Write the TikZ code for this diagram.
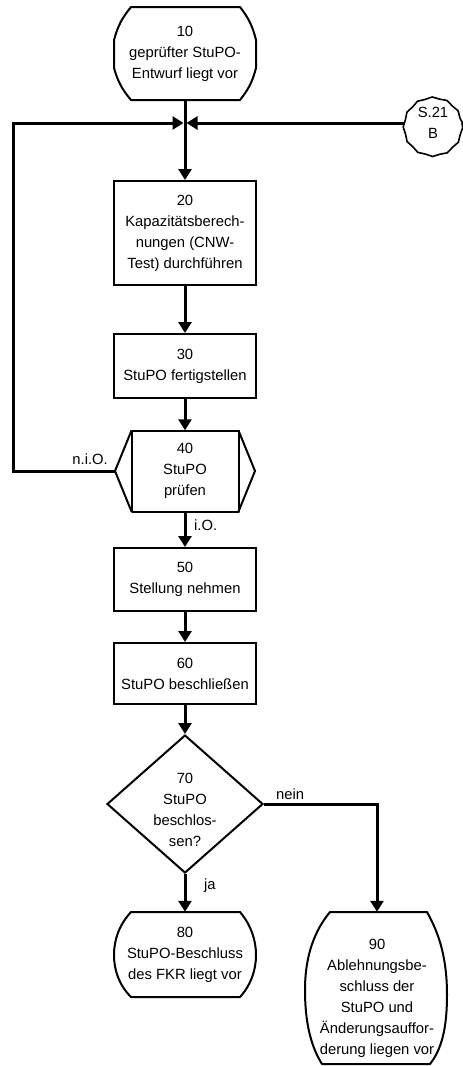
\documentclass[tikz,border=0pt]{standalone}
\usepackage{fontspec}
\setmainfont{Liberation Sans}
\usetikzlibrary{arrows.meta,shapes.geometric,decorations.pathmorphing}
\begin{document}
\begin{tikzpicture}[x=1pt,y=-1pt,
  every node/.style={font=\fontsize{14.8}{21}\selectfont, align=center, inner sep=0pt},
  box/.style={draw, line width=2pt, rectangle, minimum width=142pt},
  outl/.style={draw, line width=2pt, line join=round},
  arr/.style={line width=3pt, -{Triangle[length=11pt,width=13pt]}},
  lbl/.style={font=\fontsize{14.8}{17}\selectfont}]
\useasboundingbox (0,0) rectangle (463,1066);

% 10 event
\node[minimum width=142pt, minimum height=93pt] (n10) at (185,53.5) {10\\geprüfter StuPO-\\Entwurf liegt vor};
\draw[outl] (131,7) -- (240,7) to[bend left=12] (256,40) -- (256,68) to[bend left=12] (240,100)
  -- (131,100) to[bend left=12] (114,68) -- (114,40) to[bend left=12] cycle;

% junction and connector S.21
\coordinate (J) at (185,123);
\node[circle, minimum size=58pt] (s21) at (433,123) {S.21\\B};
\draw[line width=1.6pt, decorate, decoration={snake, segment length=15pt, amplitude=0.7pt}] (433,123) circle (29);

% 20
\node[box, minimum height=104pt] (n20) at (185,233) {20\\Kapazitätsberech-\\nungen (CNW-\\Test) durchführen};
% 30
\node[box, minimum height=64pt] (n30) at (185,366) {30\\StuPO fertigstellen};
% 40 function
\node[minimum width=140pt, minimum height=81pt] (n40) at (185,471) {40\\StuPO\\prüfen};
\draw[outl] (131.5,430.5) rectangle (238.5,511.5);
\draw[outl] (131.5,430.5) -- (115,471) -- (131.5,511.5);
\draw[outl] (238.5,430.5) -- (255,471) -- (238.5,511.5);
% 50, 60
\node[box, minimum height=63pt] (n50) at (185,579.5) {50\\Stellung nehmen};
\node[box, minimum height=61pt] (n60) at (185,673.5) {60\\StuPO beschließen};
% 70 decision
\node[diamond, draw, line width=2pt, minimum width=156pt, minimum height=138pt] (n70) at (185,804) {};
\node (t70) at (185,810) {70\\StuPO\\beschlos-\\sen?};
% 80 event
\node[minimum width=143pt, minimum height=85pt] (n80) at (185,954.5) {80\\StuPO-Beschluss\\des FKR liegt vor};
\draw[outl] (131,912) -- (240,912) .. controls (251,925) and (256,940) .. (256,955)
  .. controls (256,970) and (251,985) .. (240,997) -- (131,997)
  .. controls (119,985) and (114,970) .. (114,955) .. controls (114,940) and (119,925) .. cycle;
% 90 event
\node[minimum width=142pt, minimum height=152pt] (n90) at (377,988) {};
\node (t90) at (377,998) {90\\Ablehnungsbe-\\schluss der\\StuPO und\\Änderungsauffor-\\derung liegen vor};
\draw[outl] (330,912) -- (427,912) .. controls (440,935) and (447,960) .. (447,995)
  .. controls (447,1030) and (441,1050) .. (430,1064) -- (322,1064)
  .. controls (310,1045) and (305,1020) .. (305,990) .. controls (305,955) and (315,930) .. cycle;

% connectors
\coordinate (loopL) at (13,123);
\draw[arr] (n10.south) -- (n20.north);
\draw[arr, shorten >=1.5pt] (n40.west) -| (loopL) -- (J);
\draw[arr, shorten >=1.5pt] (s21.west) -- (J);
\draw[arr] (n20.south) -- (n30.north);
\draw[arr] (n30.south) -- (n40.north);
\draw[arr] (n40.south) -- (n50.north);
\draw[arr] (n50.south) -- (n60.north);
\draw[arr] (n60.south) -- (n70.north);
\draw[arr] (n70.south) -- (n80.north);
\draw[arr] (n70.east) -| (n90.north);

% labels
\node[lbl, anchor=east] (lnio) at (108,459) {n.i.O.};
\node[lbl, anchor=west] (lio) at (194,525) {i.O.};
\node[lbl, anchor=west] (lnein) at (276,794) {nein};
\node[lbl, anchor=west] (lja) at (204,886) {ja};
\end{tikzpicture}
\end{document}
